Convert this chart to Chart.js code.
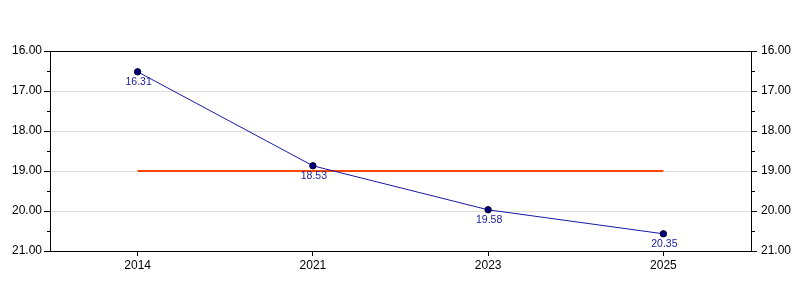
<!DOCTYPE html>
<html>
<head>
<meta charset="utf-8">
<script src="https://cdn.jsdelivr.net/npm/chart.js@4.4.1/dist/chart.umd.min.js"></script>
<style>
  html, body { margin: 0; padding: 0; background: #fff; }
  #wrap { width: 800px; height: 300px; }
</style>
</head>
<body>
<div id="wrap"><canvas id="c" width="800" height="300"></canvas></div>
<script>
'use strict';

/* =============================================
   DATA
   ============================================= */
const years = ['2014', '2021', '2023', '2025'];
const seriesValues = [16.52, 18.87, 19.97, 20.57];
const seriesLabels = ['16.31', '18.53', '19.58', '20.35'];
const referenceValues = [19, 19, 19, 19];
const yMin = 16;
const yMax = 21;

/* =============================================
   PLUGINS
   ============================================= */
const frameAndMinor = {
  id: 'frameAndMinor',
  afterDraw(chart) {
    const ctx = chart.ctx;
    const a = chart.chartArea;
    ctx.save();
    ctx.strokeStyle = '#000';
    ctx.lineWidth = 1;
    ctx.beginPath();
    ctx.moveTo(Math.round(a.left) + 0.5, Math.round(a.top) + 0.5);
    ctx.lineTo(Math.round(a.right) + 0.5, Math.round(a.top) + 0.5);
    ctx.stroke();
    // minor ticks on both y axes
    ['y', 'y2'].forEach(id => {
      const s = chart.scales[id];
      for (let v = yMin + 0.5; v < yMax; v += 1) {
        const py = Math.round(s.getPixelForValue(v)) + 0.5;
        ctx.beginPath();
        if (id === 'y') {
          ctx.moveTo(Math.round(a.left) - 3, py);
          ctx.lineTo(Math.round(a.left), py);
        } else {
          ctx.moveTo(Math.round(a.right), py);
          ctx.lineTo(Math.round(a.right) + 4, py);
        }
        ctx.stroke();
      }
    });
    // value labels under points
    const meta = chart.getDatasetMeta(1);
    ctx.fillStyle = '#2020a0';
    ctx.font = '10.5px Arial, "Liberation Sans", sans-serif';
    ctx.textAlign = 'center';
    ctx.textBaseline = 'middle';
    meta.data.forEach((pt, i) => {
      ctx.fillText(seriesLabels[i], pt.x + 1, pt.y + 10);
    });
    ctx.restore();
  }
};

/* =============================================
   CHART
   ============================================= */
const tickFont = { family: 'Arial, "Liberation Sans", sans-serif', size: 12 };

new Chart(document.getElementById('c'), {
  type: 'line',
  data: {
    labels: years,
    datasets: [
      {
        data: referenceValues,
        borderColor: '#ff4500',
        borderWidth: 2,
        pointRadius: 0,
        fill: false,
        order: 2
      },
      {
        data: seriesValues,
        borderColor: '#1818a8',
        borderWidth: 1,
        pointRadius: 3.2,
        pointBackgroundColor: '#000080',
        pointBorderColor: '#000020',
        pointBorderWidth: 1,
        fill: false,
        order: 1
      }
    ]
  },
  options: {
    responsive: false,
    animation: false,
    layout: { padding: { top: 51, left: 0, right: 0, bottom: 0 } },
    plugins: { legend: { display: false }, tooltip: { enabled: false } },
    scales: {
      x: {
        offset: true,
        grid: { display: true, drawOnChartArea: false, offset: false, tickLength: 5, color: '#000', tickColor: '#000' },
        border: { color: '#000' },
        ticks: { color: '#000', font: tickFont, padding: 2, maxRotation: 0 },
        afterFit: s => { s.height = 49; }
      },
      y: {
        position: 'left',
        reverse: true,
        min: yMin,
        max: yMax,
        grid: { color: c => (c.tick && c.tick.value > yMin && c.tick.value < yMax) ? '#dcdcdc' : 'transparent', tickColor: '#000', tickLength: 6 },
        border: { color: '#000' },
        ticks: { stepSize: 1, color: '#000', font: tickFont, padding: 2, callback: v => v.toFixed(2) },
        afterFit: s => { s.width = 50; }
      },
      y2: {
        position: 'right',
        reverse: true,
        min: yMin,
        max: yMax,
        grid: { drawOnChartArea: false, tickColor: '#000', tickLength: 6 },
        border: { color: '#000' },
        ticks: { stepSize: 1, color: '#000', font: tickFont, padding: 4, callback: v => v.toFixed(2) },
        afterFit: s => { s.width = 49; }
      }
    }
  },
  plugins: [frameAndMinor]
});
</script>
</body>
</html>
